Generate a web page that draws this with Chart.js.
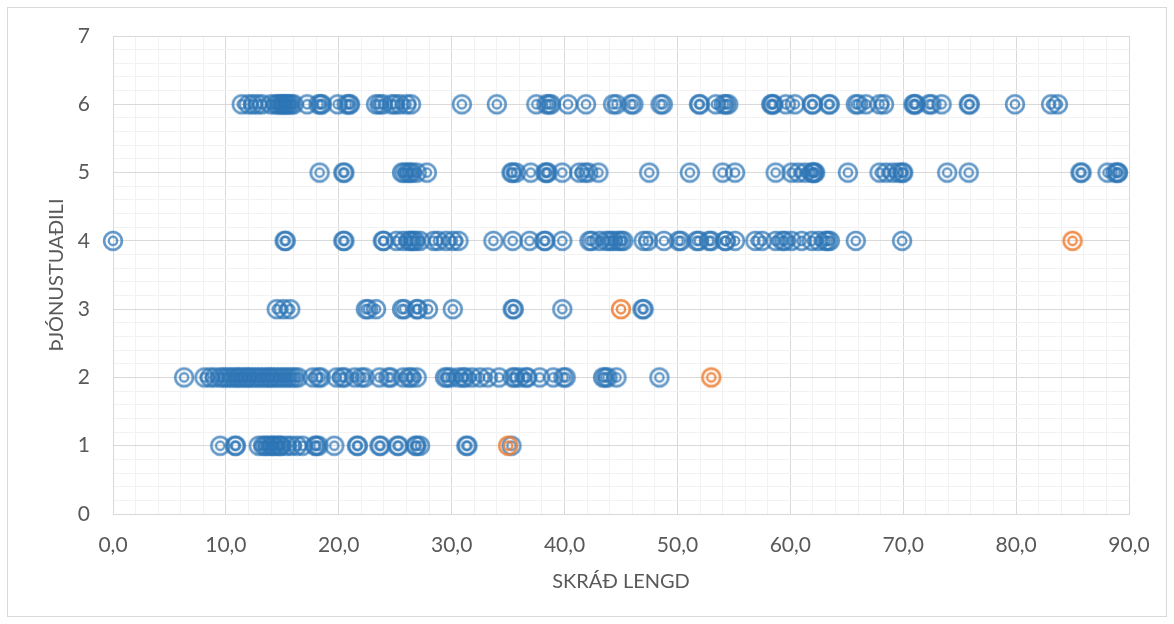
<!DOCTYPE html>
<html>
<head>
<meta charset="utf-8">
<script src="https://cdn.jsdelivr.net/npm/chart.js@4.4.1/dist/chart.umd.min.js"></script>
<style>
  html, body { margin: 0; padding: 0; background: #ffffff; }
  #wrap { position: relative; width: 1174px; height: 624px; }
  #frame { position: absolute; left: 7px; top: 7px; width: 1158px; height: 608px; border: 1px solid #d9d9d9; pointer-events: none; }
  canvas { display: block; }
</style>
</head>
<body>
<div id="wrap">
  <canvas id="c" width="1174" height="624"></canvas>
  <div id="frame"></div>
</div>
<script>
// ---- Data (x = SKRÁÐ LENGD, grouped by ÞJÓNUSTUAÐILI category) ----
const blueRow1 = [9.5, 10.8, 10.9, 12.9, 13.3, 13.5, 13.7, 14.0, 14.2, 14.3, 14.6, 14.8, 14.9, 15.4, 15.8, 16.3, 16.8, 17.9, 18.0, 18.2, 19.6, 21.6, 21.7, 23.6, 23.7, 25.2, 25.3, 26.8, 26.9, 27.2, 31.3, 31.4, 35.3];
const blueRow2 = [6.3, 8.1, 8.6, 9.0, 9.5, 9.8, 10.1, 10.4, 10.7, 11.0, 11.2, 11.5, 11.8, 12.0, 12.3, 12.6, 12.9, 13.2, 13.5, 13.8, 14.0, 14.3, 14.6, 14.9, 15.2, 15.5, 15.8, 16.1, 16.4, 17.7, 18.2, 18.4, 19.8, 20.3, 20.5, 21.4, 22.0, 22.3, 23.6, 24.4, 24.6, 25.7, 26.2, 26.4, 26.9, 29.4, 29.6, 29.9, 30.6, 31.0, 31.2, 31.8, 32.5, 33.2, 34.2, 35.4, 35.6, 36.0, 36.6, 36.7, 37.8, 39.0, 39.9, 40.1, 43.4, 43.6, 43.8, 44.6, 48.4];
const blueRow3 = [14.5, 15.1, 15.7, 22.4, 22.6, 23.3, 25.6, 25.8, 26.9, 27.0, 27.9, 30.1, 35.4, 35.5, 39.8, 46.9, 47.0];
const blueRow4 = [0.0, 15.2, 15.3, 20.4, 20.5, 23.9, 24.0, 25.1, 25.7, 26.2, 26.4, 26.6, 26.8, 27.2, 28.4, 28.8, 29.5, 30.1, 30.6, 33.7, 35.4, 36.9, 38.2, 38.3, 39.8, 42.2, 42.4, 43.1, 43.7, 44.0, 44.3, 44.7, 45.0, 45.2, 47.0, 47.4, 48.8, 50.1, 50.3, 51.7, 51.9, 52.8, 53.0, 54.2, 54.3, 55.1, 56.9, 57.5, 58.7, 59.3, 59.5, 60.1, 61.0, 61.9, 62.5, 63.1, 63.3, 63.5, 65.8, 69.9];
const blueRow5 = [18.3, 20.4, 20.5, 25.6, 25.8, 26.1, 26.3, 26.5, 26.9, 27.8, 35.3, 35.4, 35.7, 37.0, 38.3, 38.4, 38.5, 39.8, 41.3, 41.8, 42.1, 43.0, 47.5, 51.1, 54.0, 55.1, 58.7, 60.1, 60.7, 61.3, 61.9, 62.0, 62.1, 62.2, 65.1, 67.9, 68.5, 69.1, 69.6, 69.9, 70.0, 73.9, 75.8, 85.7, 85.8, 88.1, 88.8, 89.0, 89.0];
const blueRow6 = [11.4, 12.0, 12.4, 12.8, 13.2, 14.0, 14.4, 14.6, 14.8, 15.0, 15.1, 15.3, 15.4, 15.6, 15.8, 16.0, 17.2, 18.2, 18.4, 18.5, 19.9, 20.7, 20.9, 21.0, 23.3, 23.6, 23.9, 24.7, 25.0, 25.4, 26.0, 26.4, 30.9, 34.0, 37.5, 38.4, 38.6, 38.8, 40.3, 41.9, 44.3, 44.6, 45.9, 46.1, 48.5, 48.7, 51.9, 52.0, 53.4, 54.1, 54.3, 54.5, 58.3, 58.4, 58.5, 59.6, 60.4, 61.9, 62.0, 63.4, 63.5, 65.8, 66.0, 66.7, 67.9, 68.3, 70.9, 71.0, 71.1, 72.3, 72.5, 73.4, 75.8, 75.9, 79.9, 83.1, 83.7];
const orangeX = [35.0, 53.0, 45.0, 85.0];
const orangeY = [1, 2, 3, 4];

const xTickLabels = ['0,0', '10,0', '20,0', '30,0', '40,0', '50,0', '60,0', '70,0', '80,0', '90,0'];
const yTickLabels = ['0', '1', '2', '3', '4', '5', '6', '7'];
const xTitle = 'SKRÁÐ LENGD';
const yTitle = 'ÞJÓNUSTUAÐILI';

// ---- Build datasets from the arrays ----
const blueRows = [blueRow1, blueRow2, blueRow3, blueRow4, blueRow5, blueRow6];
const bluePoints = [];
blueRows.forEach((row, i) => row.forEach(x => bluePoints.push({ x: x, y: i + 1 })));
const orangePoints = orangeX.map((x, i) => ({ x: x, y: orangeY[i] }));

function ringMarker(color) {
  const c = document.createElement('canvas');
  c.width = 24; c.height = 24;
  const g = c.getContext('2d');
  g.strokeStyle = color;
  g.lineWidth = 2.7;
  g.beginPath(); g.arc(12, 12, 8.9, 0, Math.PI * 2); g.stroke();
  g.lineWidth = 2.4;
  g.beginPath(); g.arc(12, 12, 4.2, 0, Math.PI * 2); g.stroke();
  return c;
}
const blueMarker = ringMarker('rgba(46,117,182,0.75)');
const orangeMarker = ringMarker('rgba(237,125,49,0.85)');

const isMajor = (v, step) => Math.abs(v / step - Math.round(v / step)) < 1e-6;
const FONT = 'Lato, "Open Sans", sans-serif';

new Chart(document.getElementById('c'), {
  type: 'scatter',
  data: {
    datasets: [
      { label: 'orange', data: orangePoints, pointStyle: orangeMarker, pointRadius: 10, clip: false, order: 0 },
      { label: 'blue', data: bluePoints, pointStyle: blueMarker, pointRadius: 10, clip: false, order: 1 }
    ]
  },
  options: {
    responsive: false,
    animation: false,
    events: [],
    layout: { padding: { left: 0, top: 36, right: 45, bottom: 0 } },
    plugins: { legend: { display: false }, tooltip: { enabled: false } },
    scales: {
      x: {
        type: 'linear', min: 0, max: 90,
        afterFit: s => { s.height = 110; },
        ticks: {
          stepSize: 2, autoSkip: false, maxRotation: 0, padding: 19,
          color: '#595959', font: { family: FONT, size: 21 },
          callback: v => isMajor(v, 10) ? xTickLabels[Math.round(v / 10)] : ''
        },
        grid: {
          drawTicks: false, lineWidth: 1,
          color: ctx => isMajor(ctx.tick.value, 10) ? '#d9d9d9' : '#f2f2f2'
        },
        border: { display: true, color: '#d9d9d9', width: 1 },
        title: {
          display: true, text: xTitle, color: '#595959',
          font: { family: FONT, size: 20 }, padding: { top: 0, bottom: 30 }
        }
      },
      y: {
        type: 'linear', min: 0, max: 7,
        afterFit: s => { s.width = 113; },
        ticks: {
          stepSize: 0.2, autoSkip: false, padding: 23,
          color: '#595959', font: { family: FONT, size: 21 },
          callback: v => isMajor(v, 1) ? yTickLabels[Math.round(v)] : ''
        },
        grid: {
          drawTicks: false, lineWidth: 1,
          color: ctx => isMajor(ctx.tick.value, 1) ? '#d9d9d9' : '#f2f2f2'
        },
        border: { display: true, color: '#d9d9d9', width: 1 },
        title: {
          display: true, text: yTitle, color: '#595959',
          font: { family: FONT, size: 20 }, padding: { top: 45, bottom: 0 }
        }
      }
    }
  }
});
</script>
</body>
</html>
